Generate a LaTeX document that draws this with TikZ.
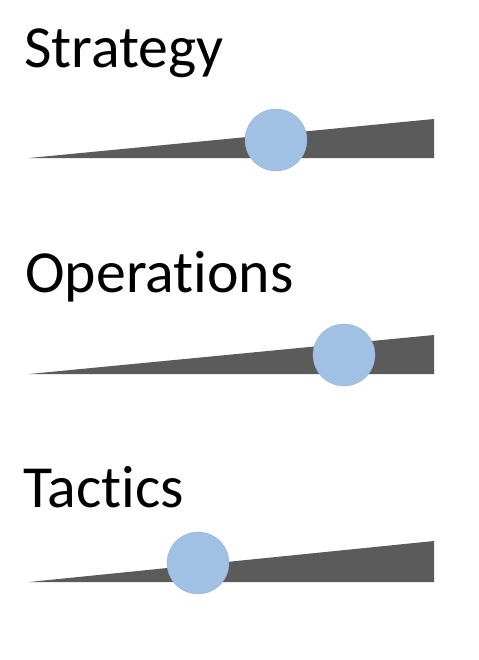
\documentclass[tikz,border=0pt]{standalone}
\usepackage{fontspec}
\setmainfont[Ligatures=NoCommon]{Carlito}
\definecolor{wedgegray}{RGB}{90,91,90}
\definecolor{knobblue}{RGB}{160,193,228}
\tikzset{
  levellabel/.style={anchor=base west, inner sep=0pt, font=\fontsize{34}{40}\selectfont},
  knob/.style={circle, inner sep=0pt, minimum size=1.24cm, fill=knobblue, draw=knobblue!75!gray, very thin}
}

\begin{document}
\begin{tikzpicture}[x=0.02cm, y=-0.02cm]
  \useasboundingbox (0,0) rectangle (478,660);
  \begin{scope}
  	% strategy
  	\node[levellabel] (strategy) at (24,67) {Strategy};
  	\fill[wedgegray] (29,158) -- (434,119) -- (434,158) -- cycle;
  	\node[knob] (strategyknob) at (276,140) {};
  	% operations
  	\node[levellabel] (operations) at (25,292) {Operations};
  	\fill[wedgegray] (29,374) -- (434,335) -- (434,374) -- cycle;
  	\node[knob] (operationsknob) at (344,355) {};
  	% tactics
  	\node[levellabel] (tactics) at (23,507) {Tactics};
  	\fill[wedgegray] (29,582) -- (434,541) -- (434,582) -- cycle;
  	\node[knob] (tacticsknob) at (198,563) {};
  \end{scope}
\end{tikzpicture}
\end{document}
